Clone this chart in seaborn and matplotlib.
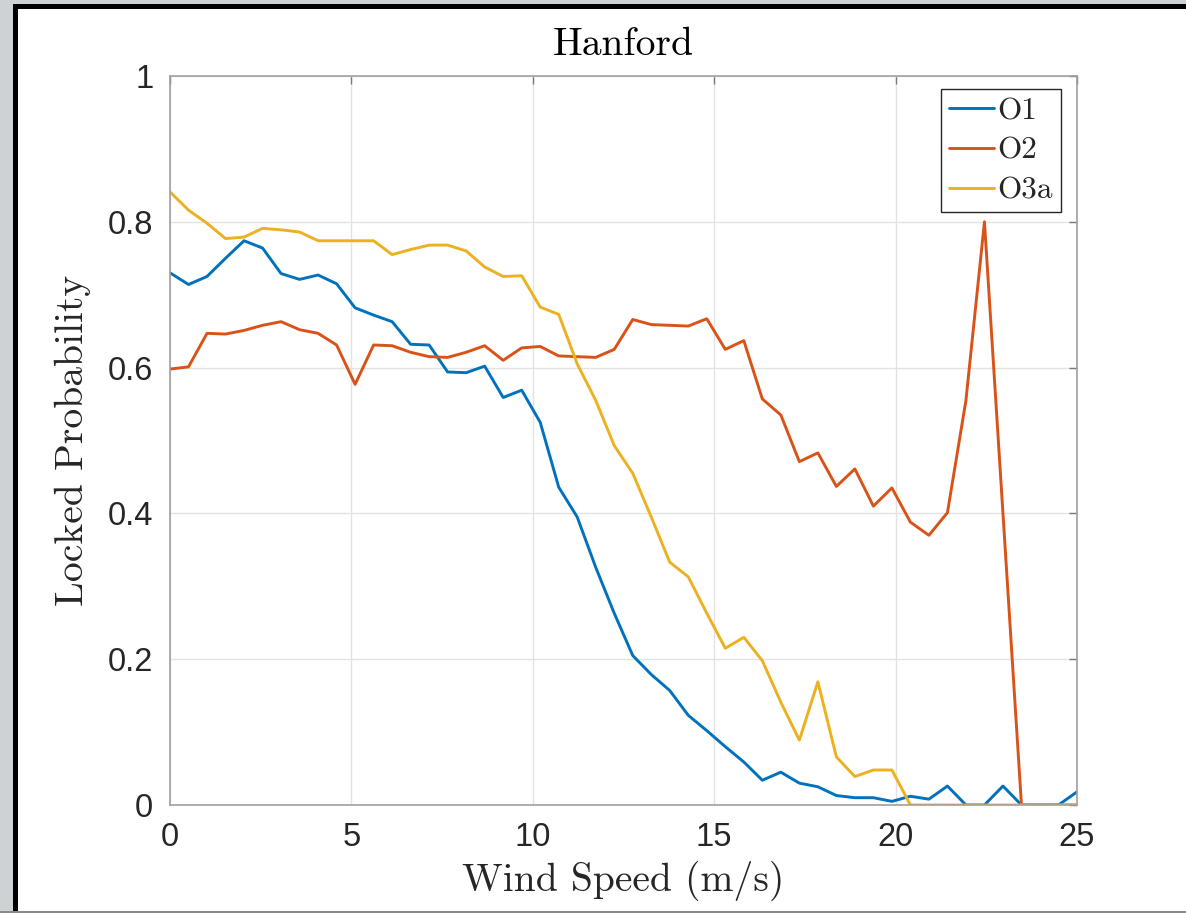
import numpy as np
import pandas as pd
import matplotlib
matplotlib.use("Agg")
import matplotlib.pyplot as plt
from matplotlib.patches import Rectangle
import seaborn as sns

# ---------------- data ----------------
wind_speed = np.linspace(0, 25, 50)
o1 = [0.730, 0.714, 0.725, 0.750, 0.774, 0.764, 0.729, 0.721, 0.727, 0.715,
      0.682, 0.672, 0.663, 0.632, 0.631, 0.594, 0.593, 0.602, 0.559, 0.569,
      0.525, 0.436, 0.395, 0.326, 0.263, 0.205, 0.179, 0.157, 0.123, 0.102,
      0.080, 0.059, 0.034, 0.045, 0.030, 0.025, 0.013, 0.010, 0.010, 0.005,
      0.012, 0.008, 0.026, 0.0, 0.0, 0.026, 0.0, 0.0, 0.0, 0.018]
o2 = [0.598, 0.601, 0.647, 0.646, 0.651, 0.658, 0.663, 0.652, 0.647, 0.631,
      0.577, 0.631, 0.630, 0.621, 0.615, 0.614, 0.621, 0.630, 0.610, 0.627,
      0.629, 0.616, 0.615, 0.614, 0.625, 0.666, 0.659, 0.658, 0.657, 0.667,
      0.625, 0.637, 0.557, 0.535, 0.471, 0.483, 0.437, 0.461, 0.410, 0.435,
      0.388, 0.370, 0.401, 0.555, 0.800, 0.400, 0.0, 0.0, 0.0, 0.0]
o3a = [0.841, 0.816, 0.798, 0.777, 0.779, 0.791, 0.789, 0.786, 0.774, 0.774,
       0.774, 0.774, 0.755, 0.762, 0.768, 0.768, 0.760, 0.738, 0.725, 0.726,
       0.683, 0.673, 0.605, 0.555, 0.493, 0.455, 0.395, 0.333, 0.313, 0.263,
       0.215, 0.230, 0.198, 0.141, 0.089, 0.169, 0.066, 0.039, 0.048, 0.048,
       0.0, 0.0, 0.0, 0.0, 0.0, 0.0, 0.0, 0.0, 0.0, 0.0]
series_names = ["O1", "O2", "O3a"]
x_ticks = [0, 5, 10, 15, 20, 25]
y_ticks = [0, 0.2, 0.4, 0.6, 0.8, 1]
y_tick_labels = ["0", "0.2", "0.4", "0.6", "0.8", "1"]
title = "Hanford"
x_label = "Wind Speed (m/s)"
y_label = "Locked Probability"

df = pd.concat([
    pd.DataFrame({"Wind Speed": wind_speed, "Locked Probability": vals, "Series": name})
    for name, vals in zip(series_names, [o1, o2, o3a])
], ignore_index=True)

# ---------------- style ----------------
sns.set_theme(style="white")
plt.rcParams["font.family"] = ["Liberation Sans", "DejaVu Sans"]
serif = ["cmr10", "DejaVu Serif"]

fig = plt.figure(figsize=(11.86, 9.13), dpi=100, facecolor="white")
W, H = 1186, 913

# slide background / frame around the figure
fig.patches.append(Rectangle((0, 0), 12.7 / W, 1, transform=fig.transFigure,
                             facecolor="#cdd2d5", edgecolor="none", zorder=0))
fig.patches.append(Rectangle((0, 1 - 4 / H), 1, 4 / H, transform=fig.transFigure,
                             facecolor="#cdd2d5", edgecolor="none", zorder=0))
fig.patches.append(Rectangle((12.7 / W, 0), 5.6 / W, 1 - 4 / H, transform=fig.transFigure,
                             facecolor="black", edgecolor="none", zorder=1))
fig.patches.append(Rectangle((12.7 / W, 1 - 9.5 / H), 1, 5.5 / H, transform=fig.transFigure,
                             facecolor="black", edgecolor="none", zorder=1))
fig.patches.append(Rectangle((0, 0), 1, 2 / H, transform=fig.transFigure,
                             facecolor="#8a8a8a", edgecolor="none", zorder=1))

ax = fig.add_axes([170 / W, 1 - 805 / H, (1077 - 170) / W, (805 - 76) / H])
palette = {"O1": "#0072BD", "O2": "#D95319", "O3a": "#EDB120"}
sns.lineplot(data=df, x="Wind Speed", y="Locked Probability", hue="Series",
             palette=palette, linewidth=2.1, ax=ax, legend=True)

ax.set_xlim(0, 25)
ax.set_ylim(0, 1)
ax.set_xticks(x_ticks)
ax.set_xticklabels([str(t) for t in x_ticks])
ax.set_yticks(y_ticks)
ax.set_yticklabels(y_tick_labels)
ax.grid(True, color="#e3e3e3", linewidth=1.0)
ax.set_axisbelow(True)
for s in ax.spines.values():
    s.set_color("#a0a0a0")
    s.set_linewidth(1.2)
ax.tick_params(direction="in", length=6, width=1, color="#7a7a7a",
               labelsize=23.5, labelcolor="#262626", top=True, right=True)
ax.tick_params(axis="x", pad=12.5)
ax.tick_params(axis="y", pad=12)

ax.set_title(title, fontfamily=serif, fontsize=28.5, color="black", pad=15)
ax.set_xlabel(x_label, fontfamily=serif, fontsize=28.5, color="#262626", labelpad=5)
ax.set_ylabel(y_label, fontfamily=serif, fontsize=28.5, color="#262626", labelpad=12)

handles, labels = ax.get_legend_handles_labels()
leg = ax.legend(handles, labels, loc="upper right",
                bbox_to_anchor=((1060.7 - 170) / 907, (805 - 89.3) / 729),
                borderaxespad=0, frameon=True, fancybox=False, framealpha=1,
                edgecolor="#262626", prop={"family": serif, "size": 22.5},
                handlelength=1.44, handletextpad=0.1, labelspacing=0.38,
                borderpad=0.25)
leg.get_frame().set_linewidth(1.0)

fig.savefig("out.png", dpi=100, facecolor="white")
